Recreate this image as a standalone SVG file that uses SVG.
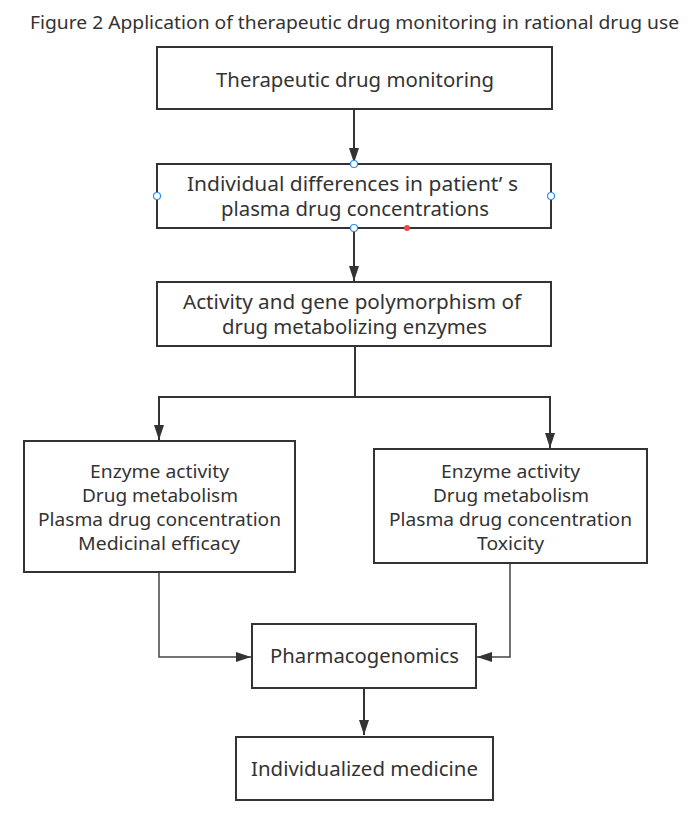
<svg xmlns="http://www.w3.org/2000/svg" width="693" height="820" viewBox="0 0 693 820">
<style>
.bg{fill:#ffffff}
.box{fill:#ffffff;stroke:#333333;stroke-width:2}
.t{font-family:"Noto Sans","Open Sans","Liberation Sans",sans-serif;font-size:20px;fill:#333333;text-anchor:middle}
.t4{font-family:"Noto Sans","Open Sans","Liberation Sans",sans-serif;font-size:18.5px;fill:#333333;text-anchor:middle}
.title{font-family:"Noto Sans","Open Sans","Liberation Sans",sans-serif;font-size:17.5px;fill:#333333;text-anchor:middle}
.c{fill:none;stroke:#333333;stroke-width:2}
.c2{fill:none;stroke:#444444;stroke-width:1.5}
.h{fill:#ffffff;stroke:#2f8cf0;stroke-width:1.2}
.r{fill:#e84a4a}
</style>
<defs>
<marker id="ah" viewBox="0 0 15 10" refX="15" refY="5" markerWidth="15" markerHeight="10" markerUnits="userSpaceOnUse" orient="auto">
<path d="M0,0 L15,5 L0,10 Z" fill="#333333"/>
</marker>
</defs>
<rect class="bg" x="0" y="0" width="693" height="820"/>
<text class="title" x="354.5" y="29" textLength="649" lengthAdjust="spacingAndGlyphs">Figure 2 Application of therapeutic drug monitoring in rational drug use</text>

<g id="connectors">
<path class="c" d="M354,109 V163" marker-end="url(#ah)"/>
<path class="c" d="M354,228 V281" marker-end="url(#ah)"/>
<path class="c" d="M355,346 V397 H159 V440" marker-end="url(#ah)"/>
<path class="c" d="M355,397 H550 V448" marker-end="url(#ah)"/>
<path class="c2" d="M159,572 V657 H251" marker-end="url(#ah)"/>
<path class="c2" d="M510,563 V657 H477" marker-end="url(#ah)"/>
<path class="c" d="M364,688 V735" marker-end="url(#ah)"/>
</g>

<g id="node-tdm">
<rect class="box" x="157" y="47" width="395" height="62"/>
<text class="t" x="355" y="87" textLength="278" lengthAdjust="spacingAndGlyphs">Therapeutic drug monitoring</text>
</g>

<g id="node-individual-differences">
<rect class="box" x="157" y="164" width="394" height="64"/>
<text class="t" x="352.5" y="191" textLength="331" lengthAdjust="spacingAndGlyphs">Individual differences in patient’ s</text>
<text class="t" x="355" y="216" textLength="268" lengthAdjust="spacingAndGlyphs">plasma drug concentrations</text>
<circle class="h" cx="354" cy="164" r="3.5"/>
<circle class="h" cx="157" cy="196" r="3.5"/>
<circle class="h" cx="551" cy="196" r="3.5"/>
<circle class="h" cx="354" cy="228" r="3.5"/>
<circle class="r" cx="407" cy="228" r="3"/>
</g>

<g id="node-enzymes">
<rect class="box" x="157" y="282" width="394" height="64"/>
<text class="t" x="352" y="309" textLength="338" lengthAdjust="spacingAndGlyphs">Activity and gene polymorphism of</text>
<text class="t" x="354.5" y="334" textLength="265" lengthAdjust="spacingAndGlyphs">drug metabolizing enzymes</text>
</g>

<g id="node-efficacy">
<rect class="box" x="24" y="441" width="271" height="131"/>
<text class="t4" x="159.5" y="477.5" textLength="139" lengthAdjust="spacingAndGlyphs">Enzyme activity</text>
<text class="t4" x="160" y="501.5" textLength="156" lengthAdjust="spacingAndGlyphs">Drug metabolism</text>
<text class="t4" x="159.5" y="525.5" textLength="243" lengthAdjust="spacingAndGlyphs">Plasma drug concentration</text>
<text class="t4" x="159" y="549.5" textLength="162" lengthAdjust="spacingAndGlyphs">Medicinal efficacy</text>
</g>

<g id="node-toxicity">
<rect class="box" x="374" y="449" width="273" height="114"/>
<text class="t4" x="510.5" y="477.5" textLength="139" lengthAdjust="spacingAndGlyphs">Enzyme activity</text>
<text class="t4" x="511" y="501.5" textLength="156" lengthAdjust="spacingAndGlyphs">Drug metabolism</text>
<text class="t4" x="510.5" y="525.5" textLength="243" lengthAdjust="spacingAndGlyphs">Plasma drug concentration</text>
<text class="t4" x="510.5" y="549.5" textLength="67" lengthAdjust="spacingAndGlyphs">Toxicity</text>
</g>

<g id="node-pharmacogenomics">
<rect class="box" x="252" y="624" width="224" height="64"/>
<text class="t" x="364.5" y="663" textLength="189" lengthAdjust="spacingAndGlyphs">Pharmacogenomics</text>
</g>

<g id="node-individualized">
<rect class="box" x="236" y="737" width="257" height="63"/>
<text class="t" x="364.5" y="776" textLength="227" lengthAdjust="spacingAndGlyphs">Individualized medicine</text>
</g>
</svg>
